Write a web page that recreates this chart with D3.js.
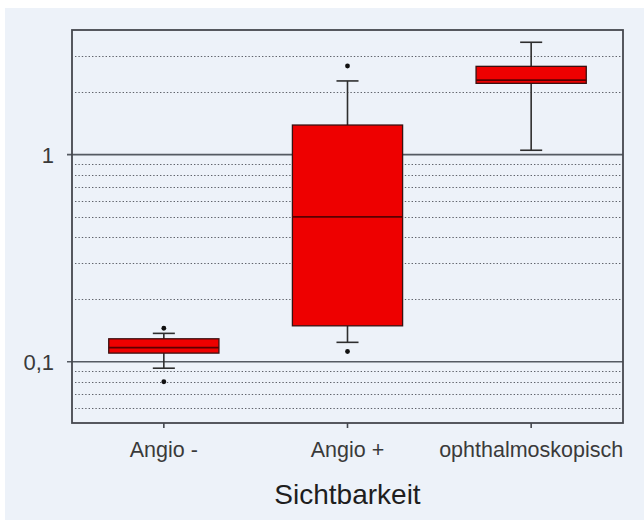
<!DOCTYPE html>
<html>
<head>
<meta charset="utf-8">
<script src="https://cdn.jsdelivr.net/npm/d3@7"></script>
<style>
  html, body { margin: 0; padding: 0; background: #ffffff; }
  svg { display: block; }
  text { font-family: "Liberation Sans", Arial, sans-serif; }
</style>
</head>
<body>
<svg id="chart" width="644" height="522"></svg>
<script>
// Box plot summaries per visibility group (log scale)
const categories = ["Angio -", "Angio +", "ophthalmoskopisch"];
const whiskerLow = [0.093, 0.124, 1.05];
const quartile1 = [0.110, 0.149, 2.21];
const medians = [0.117, 0.50, 2.29];
const quartile3 = [0.129, 1.39, 2.67];
const whiskerHigh = [0.137, 2.27, 3.49];
const outliers = [[0.080, 0.145], [0.112, 2.68], []];

const majorTicks = [0.1, 1];
const majorLabels = ["0,1", "1"];
const minorTicks = [0.06, 0.07, 0.08, 0.09, 0.2, 0.3, 0.4, 0.5, 0.6, 0.7, 0.8, 0.9, 2, 3];
const xTitle = "Sichtbarkeit";

const svg = d3.select("#chart");
const W = 644, H = 522;
const plot = { left: 72, right: 623, top: 30, bottom: 424 };

// page background panel
svg.append("rect")
  .attr("x", 5).attr("y", 8)
  .attr("width", W - 5).attr("height", H - 10)
  .attr("fill", "#edf2f9");

const x = d3.scaleBand()
  .domain(categories)
  .range([plot.left, plot.right])
  .padding(0);

const y = d3.scaleLog()
  .domain([0.05, 4])
  .range([plot.bottom, plot.top]);

// dotted minor gridlines
svg.append("g").selectAll("line")
  .data(minorTicks)
  .join("line")
  .attr("x1", plot.left + 3).attr("x2", plot.right - 1)
  .attr("y1", d => Math.round(y(d)) + 0.5).attr("y2", d => Math.round(y(d)) + 0.5)
  .attr("stroke", "#5f636b")
  .attr("stroke-width", 1.2)
  .attr("stroke-dasharray", "1.4,2");

// solid major gridlines with outside ticks
svg.append("g").selectAll("line")
  .data(majorTicks)
  .join("line")
  .attr("x1", plot.left - 5).attr("x2", plot.right)
  .attr("y1", d => y(d)).attr("y2", d => y(d))
  .attr("stroke", "#555a62")
  .attr("stroke-width", 1.6);

// y tick labels
svg.append("g").selectAll("text")
  .data(majorTicks)
  .join("text")
  .attr("x", 54)
  .attr("y", d => y(d))
  .attr("dy", "0.36em")
  .attr("text-anchor", "end")
  .attr("font-size", 22)
  .attr("fill", "#3a3a3a")
  .text((d, i) => majorLabels[i]);

// plot frame
svg.append("rect")
  .attr("x", plot.left).attr("y", plot.top)
  .attr("width", plot.right - plot.left)
  .attr("height", plot.bottom - 1 - plot.top)
  .attr("fill", "none")
  .attr("stroke", "#45484e")
  .attr("stroke-width", 1.8);

// x axis ticks and labels
const xAxis = d3.axisBottom(x).tickSize(5).tickSizeOuter(0).tickPadding(14);
const gx = svg.append("g")
  .attr("transform", `translate(0,${plot.bottom - 1})`)
  .call(xAxis);
gx.select(".domain").remove();
gx.selectAll(".tick line").attr("stroke", "#45484e").attr("stroke-width", 1.6);
gx.selectAll(".tick text")
  .attr("font-size", 21.5)
  .attr("font-family", "'Liberation Sans', Arial, sans-serif")
  .attr("fill", "#3a3a3a");

// axis title
svg.append("text")
  .attr("x", (plot.left + plot.right) / 2)
  .attr("y", 504)
  .attr("text-anchor", "middle")
  .attr("font-size", 28)
  .attr("fill", "#1e1e1e")
  .text(xTitle);

// boxes
const boxW = x.bandwidth() * 0.6;
const capW = x.bandwidth() * 0.12;
const groups = svg.append("g").selectAll("g")
  .data(categories)
  .join("g")
  .attr("transform", d => `translate(${x(d) + x.bandwidth() / 2},0)`);

groups.append("line")
  .attr("x1", 0).attr("x2", 0)
  .attr("y1", (d, i) => y(whiskerLow[i]))
  .attr("y2", (d, i) => y(quartile1[i]))
  .attr("stroke", "#2e2e2e").attr("stroke-width", 1.6);

groups.append("line")
  .attr("x1", 0).attr("x2", 0)
  .attr("y1", (d, i) => y(whiskerHigh[i]))
  .attr("y2", (d, i) => y(quartile3[i]))
  .attr("stroke", "#2e2e2e").attr("stroke-width", 1.6);

groups.append("line")
  .attr("x1", -capW / 2).attr("x2", capW / 2)
  .attr("y1", (d, i) => y(whiskerLow[i]))
  .attr("y2", (d, i) => y(whiskerLow[i]))
  .attr("stroke", "#2e2e2e").attr("stroke-width", 1.6);

groups.append("line")
  .attr("x1", -capW / 2).attr("x2", capW / 2)
  .attr("y1", (d, i) => y(whiskerHigh[i]))
  .attr("y2", (d, i) => y(whiskerHigh[i]))
  .attr("stroke", "#2e2e2e").attr("stroke-width", 1.6);

groups.append("rect")
  .attr("x", -boxW / 2)
  .attr("width", boxW)
  .attr("y", (d, i) => y(quartile3[i]))
  .attr("height", (d, i) => y(quartile1[i]) - y(quartile3[i]))
  .attr("fill", "#ee0000")
  .attr("stroke", "#3a1010")
  .attr("stroke-width", 1.3);

groups.append("line")
  .attr("x1", -boxW / 2).attr("x2", boxW / 2)
  .attr("y1", (d, i) => y(medians[i]))
  .attr("y2", (d, i) => y(medians[i]))
  .attr("stroke", "#5a0000").attr("stroke-width", 1.8);

groups.selectAll("circle")
  .data((d, i) => outliers[i])
  .join("circle")
  .attr("cx", 0)
  .attr("cy", v => y(v))
  .attr("r", 2.4)
  .attr("fill", "#111");
</script>
</body>
</html>
